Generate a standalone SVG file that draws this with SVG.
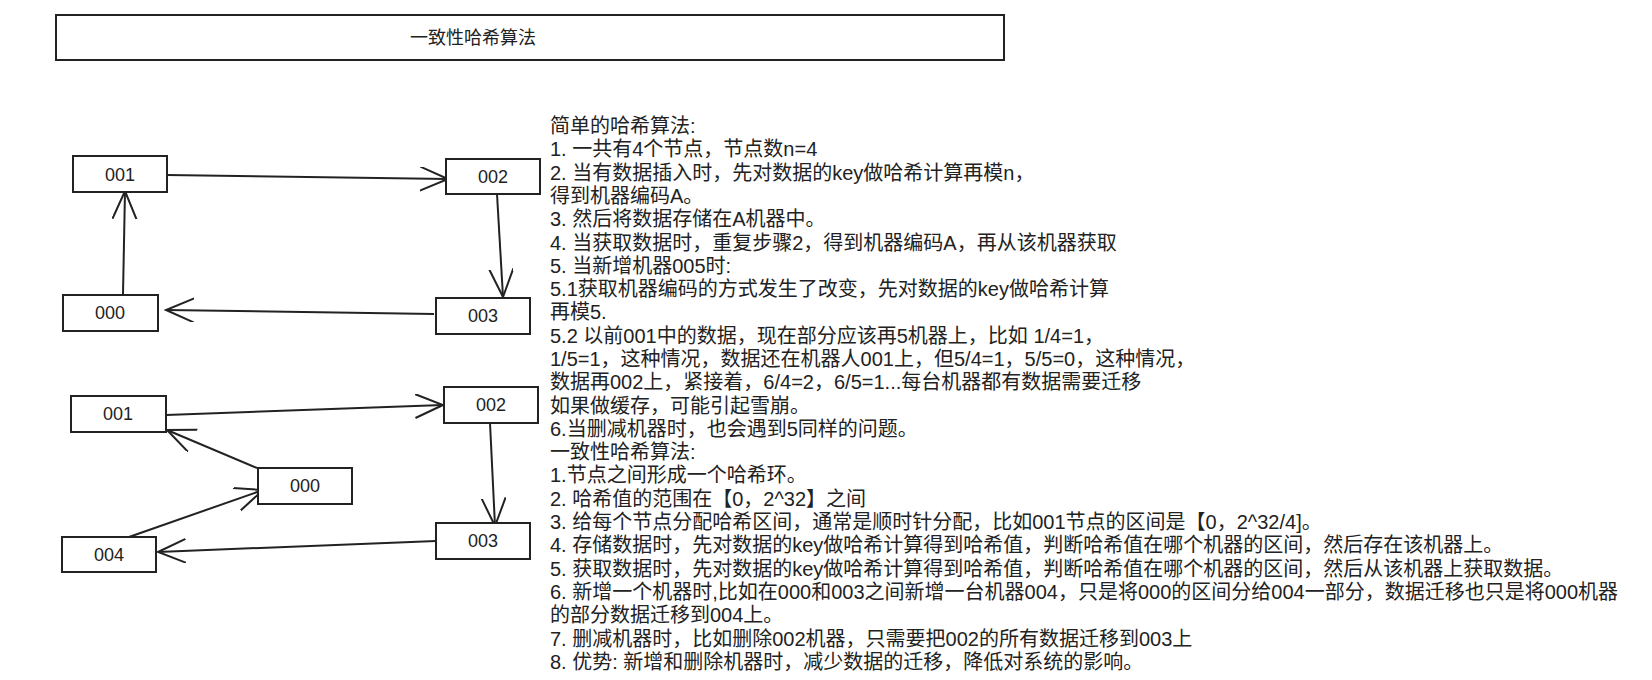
<svg xmlns="http://www.w3.org/2000/svg" width="1652" height="680" viewBox="0 0 1652 680">
<style>
.b{fill:#fff;stroke:#222;stroke-width:2}
.t{font-family:"Liberation Sans","Noto Sans CJK SC",sans-serif;font-size:18px;fill:#222}
.m{font-size:20px}
.n{text-anchor:middle}
.c{fill:none;stroke:#222;stroke-width:2}
</style>
<defs><marker id="a" markerWidth="30" markerHeight="30" refX="28" refY="12" orient="auto" markerUnits="userSpaceOnUse"><path d="M0,0 L28,12 L0,24" fill="none" stroke="#222" stroke-width="2"/></marker></defs>
<rect width="1652" height="680" fill="#fff"/>
<g id="title"><rect class="b" x="56" y="15" width="948" height="45"/><text class="t n" x="473" y="44">一致性哈希算法</text></g>
<g id="connectors">
<line class="c" x1="167" y1="175" x2="448" y2="179" marker-end="url(#a)"/>
<line class="c" x1="497" y1="194" x2="503" y2="297" marker-end="url(#a)"/>
<line class="c" x1="434" y1="314" x2="166" y2="310" marker-end="url(#a)"/>
<line class="c" x1="123" y1="294" x2="125" y2="191" marker-end="url(#a)"/>
<line class="c" x1="166" y1="415" x2="443" y2="405" marker-end="url(#a)"/>
<line class="c" x1="490" y1="423" x2="495" y2="526" marker-end="url(#a)"/>
<line class="c" x1="436" y1="541" x2="158" y2="552" marker-end="url(#a)"/>
<line class="c" x1="257" y1="468" x2="167" y2="430" marker-end="url(#a)"/>
<line class="c" x1="129" y1="537" x2="263" y2="490" marker-end="url(#a)"/>
</g>
<g id="t001"><rect class="b" x="73" y="156" width="94" height="36"/><text class="t n" x="120" y="181">001</text></g>
<g id="t002"><rect class="b" x="446" y="159" width="94" height="35"/><text class="t n" x="493" y="183">002</text></g>
<g id="t000"><rect class="b" x="63" y="295" width="95" height="36"/><text class="t n" x="110" y="319">000</text></g>
<g id="t003"><rect class="b" x="436" y="298" width="94" height="36"/><text class="t n" x="483" y="322">003</text></g>
<g id="b001"><rect class="b" x="71" y="396" width="95" height="36"/><text class="t n" x="118" y="420">001</text></g>
<g id="b002"><rect class="b" x="444" y="387" width="94" height="36"/><text class="t n" x="491" y="411">002</text></g>
<g id="b000"><rect class="b" x="258" y="468" width="94" height="36"/><text class="t n" x="305" y="492">000</text></g>
<g id="b003"><rect class="b" x="436" y="523" width="94" height="36"/><text class="t n" x="483" y="547">003</text></g>
<g id="b004"><rect class="b" x="62" y="537" width="94" height="35"/><text class="t n" x="109" y="561">004</text></g>
<g id="notes"><text class="t m" x="550" y="133">
<tspan x="550" dy="0">简单的哈希算法:</tspan>
<tspan x="550" dy="23.3">1. 一共有4个节点，节点数n=4</tspan>
<tspan x="550" dy="23.3">2. 当有数据插入时，先对数据的key做哈希计算再模n，</tspan>
<tspan x="550" dy="23.3">得到机器编码A。</tspan>
<tspan x="550" dy="23.3">3. 然后将数据存储在A机器中。</tspan>
<tspan x="550" dy="23.3">4. 当获取数据时，重复步骤2，得到机器编码A，再从该机器获取</tspan>
<tspan x="550" dy="23.3">5. 当新增机器005时:</tspan>
<tspan x="550" dy="23.3">5.1获取机器编码的方式发生了改变，先对数据的key做哈希计算</tspan>
<tspan x="550" dy="23.3">再模5.</tspan>
<tspan x="550" dy="23.3">5.2 以前001中的数据，现在部分应该再5机器上，比如 1/4=1，</tspan>
<tspan x="550" dy="23.3">1/5=1，这种情况，数据还在机器人001上，但5/4=1，5/5=0，这种情况，</tspan>
<tspan x="550" dy="23.3">数据再002上，紧接着，6/4=2，6/5=1...每台机器都有数据需要迁移</tspan>
<tspan x="550" dy="23.3">如果做缓存，可能引起雪崩。</tspan>
<tspan x="550" dy="23.3">6.当删减机器时，也会遇到5同样的问题。</tspan>
<tspan x="550" dy="23.3">一致性哈希算法:</tspan>
<tspan x="550" dy="23.3">1.节点之间形成一个哈希环。</tspan>
<tspan x="550" dy="23.3">2. 哈希值的范围在【0，2^32】之间</tspan>
<tspan x="550" dy="23.3">3. 给每个节点分配哈希区间，通常是顺时针分配，比如001节点的区间是【0，2^32/4]。</tspan>
<tspan x="550" dy="23.3">4. 存储数据时，先对数据的key做哈希计算得到哈希值，判断哈希值在哪个机器的区间，然后存在该机器上。</tspan>
<tspan x="550" dy="23.3">5. 获取数据时，先对数据的key做哈希计算得到哈希值，判断哈希值在哪个机器的区间，然后从该机器上获取数据。</tspan>
<tspan x="550" dy="23.3">6. 新增一个机器时,比如在000和003之间新增一台机器004，只是将000的区间分给004一部分，数据迁移也只是将000机器</tspan>
<tspan x="550" dy="23.3">的部分数据迁移到004上。</tspan>
<tspan x="550" dy="23.3">7. 删减机器时，比如删除002机器，只需要把002的所有数据迁移到003上</tspan>
<tspan x="550" dy="23.3">8. 优势: 新增和删除机器时，减少数据的迁移，降低对系统的影响。</tspan>
</text></g>
</svg>
